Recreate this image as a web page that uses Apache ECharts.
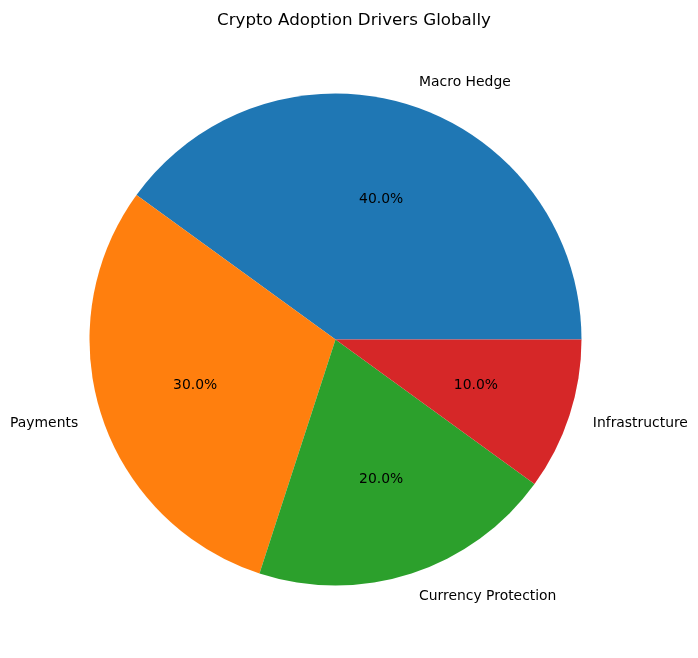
<!DOCTYPE html>
<html>
<head>
<meta charset="utf-8">
<script src="https://cdn.jsdelivr.net/npm/echarts@6/dist/echarts.min.js"></script>
<style>
html, body { margin: 0; padding: 0; background: #fff; }
#main { width: 698px; height: 658px; }
</style>
</head>
<body>
<div id="main"></div>
<script>
var categories = ["Macro Hedge", "Payments", "Currency Protection", "Infrastructure"];
var shares = [40, 30, 20, 10];
var colors = ["#1f77b4", "#ff7f0e", "#2ca02c", "#d62728"];

var font = "DejaVu Sans";
var R = 246;
var center = [335.5, 339.5];

var data = categories.map(function (name, i) {
    return { name: name, value: shares[i], itemStyle: { color: colors[i] } };
});
var total = shares.reduce(function (a, b) { return a + b; }, 0);

var chartDom = document.getElementById("main");
var myChart = echarts.init(chartDom, null, { renderer: 'canvas' });
var option = {
    animation: false,
    title: {
        text: "Crypto Adoption Drivers Globally",
        left: 349,
        textAlign: 'center',
        top: 7,
        textStyle: { fontFamily: font, fontSize: 16.7, fontWeight: 'normal', color: '#000' }
    },
    series: [
        {
            // wedges + outer category labels
            type: 'pie',
            center: center,
            radius: R,
            startAngle: 0,
            clockwise: false,
            avoidLabelOverlap: false,
            silent: true,
            data: data,
            itemStyle: { borderWidth: 0 },
            label: {
                show: true,
                position: 'outside',
                distanceToLabelLine: 0,
                fontFamily: font,
                fontSize: 13.9,
                color: '#000',
                formatter: '{b}'
            },
            labelLine: { show: false, length: R * 0.1, length2: 0 }
        },
        {
            // transparent ring, only places the percent labels at 0.6R
            // (echarts pushes inside labels 3px outward, so take that off)
            type: 'pie',
            center: center,
            radius: R * 1.2 - 6,
            startAngle: 0,
            clockwise: false,
            avoidLabelOverlap: false,
            silent: true,
            data: categories.map(function (name, i) { return { name: name, value: shares[i] }; }),
            itemStyle: { color: 'rgba(0,0,0,0)', borderWidth: 0 },
            label: {
                show: true,
                position: 'inside',
                fontFamily: font,
                fontSize: 13.9,
                color: '#000',
                formatter: function (p) { return (p.value / total * 100).toFixed(1) + '%'; }
            },
            labelLine: { show: false }
        }
    ]
};
myChart.setOption(option);
</script>
</body>
</html>
